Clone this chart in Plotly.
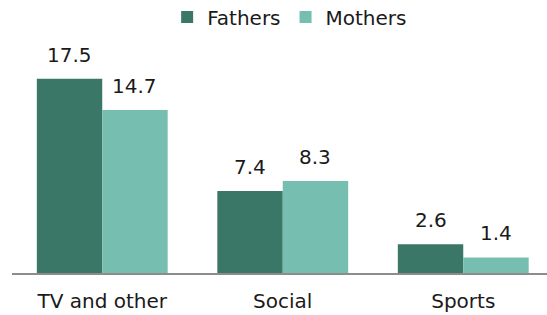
import plotly.graph_objects as go

categories = ["TV and other", "Social", "Sports"]
fathers = [17.5, 7.4, 2.6]
mothers = [14.7, 8.3, 1.4]
series_names = ["Fathers", "Mothers"]

c_f = "#3a7767"
c_m = "#76bfb0"
FONT = "DejaVu Sans"
TXT = "#1a1a1a"

fig = go.Figure()
fig.add_trace(go.Bar(x=categories, y=fathers, name=series_names[0], marker=dict(color=c_f, line=dict(width=0))))
fig.add_trace(go.Bar(x=categories, y=mothers, name=series_names[1], marker=dict(color=c_m, line=dict(width=0))))

annotations = []
for vals, shift in ((fathers, -32.5), (mothers, 32.5)):
    for c, v in zip(categories, vals):
        annotations.append(dict(x=c, y=v, xref="x", yref="y", text=f"{v:.1f}", showarrow=False,
                                xshift=shift, yshift=10, yanchor="bottom",
                                font=dict(family=FONT, size=20, color=TXT)))

fig.update_layout(
    width=547, height=315,
    margin=dict(l=12, r=0, t=40, b=42, autoexpand=False),
    paper_bgcolor="white", plot_bgcolor="white",
    barmode="group", bargap=0.275, bargroupgap=0,
    font=dict(family=FONT, size=20, color=TXT),
    legend=dict(orientation="h", x=0.29, xanchor="left", y=1.0987, yanchor="middle", yref="paper",
                font=dict(family=FONT, size=20, color=TXT), traceorder="normal"),
    annotations=annotations,
    showlegend=True,
)
fig.update_xaxes(range=[-0.5, 2.464], showline=True, linecolor="#8c8c8c", linewidth=2, automargin=False,
                 ticks="", ticklabelstandoff=9, tickfont=dict(family=FONT, size=20, color=TXT))
fig.update_yaxes(range=[0, 21.0], visible=False, showgrid=False, zeroline=False, automargin=False)

fig.write_html("out.html", config={"displayModeBar": False},
               post_script="document.body.style.margin='0';document.body.style.overflow='hidden';")
